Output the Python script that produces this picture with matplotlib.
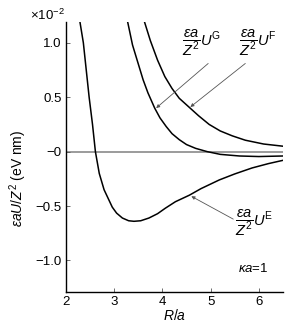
import matplotlib
matplotlib.use("Agg")
import matplotlib.pyplot as plt

plt.rcParams['font.family'] = ['Liberation Sans', 'DejaVu Sans']
plt.rcParams['mathtext.fontset'] = 'custom'
plt.rcParams['mathtext.it'] = 'Liberation Sans:italic'
plt.rcParams['mathtext.rm'] = 'Liberation Sans'
plt.rcParams['mathtext.sf'] = 'Liberation Sans'

# data (values in units of 1e-2 eV nm)
R_E = [2.29, 2.36, 2.42, 2.48, 2.55, 2.61, 2.69, 2.79, 2.96, 3.05, 3.17, 3.30, 3.41, 3.55,
       3.72, 3.90, 4.06, 4.27, 4.56, 4.80, 5.18, 5.50, 5.86, 6.20, 6.5]
U_E = [1.19, 1.00, 0.75, 0.50, 0.25, 0.00, -0.20, -0.35, -0.51, -0.565, -0.61, -0.635, -0.64, -0.635,
       -0.61, -0.57, -0.52, -0.46, -0.40, -0.34, -0.26, -0.205, -0.15, -0.11, -0.08]

R_G = [3.28, 3.38, 3.49, 3.60, 3.70, 3.84, 3.95, 4.08, 4.20, 4.35, 4.50, 4.69, 4.93, 5.20,
       5.60, 6.0, 6.5]
U_G = [1.19, 0.98, 0.82, 0.66, 0.54, 0.40, 0.31, 0.23, 0.165, 0.11, 0.065, 0.03, 0.00, -0.025,
       -0.04, -0.045, -0.04]

R_F = [3.63, 3.75, 3.90, 4.05, 4.20, 4.35, 4.50, 4.60, 4.75, 4.97, 5.20, 5.45, 5.72, 6.10, 6.5]
U_F = [1.19, 1.02, 0.84, 0.69, 0.58, 0.49, 0.43, 0.39, 0.33, 0.25, 0.19, 0.145, 0.105, 0.07, 0.05]

xticks = [2, 3, 4, 5, 6]
yticks = [1.0, 0.5, 0.0, -0.5, -1.0]
ytick_labels = ['1.0', '0.5', '\u22120', '\u22120.5', '\u22121.0']

fig = plt.figure(figsize=(3.0, 3.3), dpi=100)
ax = fig.add_axes([0.22, 0.115, 0.723, 0.818])

ax.axhline(0, color='#8a8a8a', lw=1.2, zorder=1)
for R, U in [(R_E, U_E), (R_G, U_G), (R_F, U_F)]:
    ax.plot(R, U, color='black', lw=1.1, zorder=2, solid_joinstyle='round')

ax.set_xlim(2, 6.5)
ax.set_ylim(-1.29, 1.19)
ax.set_xticks(xticks)
ax.set_yticks(yticks)
ax.set_yticklabels(ytick_labels)
ax.tick_params(direction='in', length=3, width=0.6, labelsize=9.5, color='#555555', pad=3)
for s in ['top', 'right']:
    ax.spines[s].set_visible(False)
for s in ['left', 'bottom']:
    ax.spines[s].set_linewidth(1.0)

ax.set_xlabel(r'$R/a$', fontsize=10, labelpad=0)
fig.text(0.06, 0.46, r'$\varepsilon aU/Z^2$ (eV nm)', rotation=90, fontsize=10,
         ha='center', va='center')
fig.text(0.10, 0.953, r'$\times10^{-2}$', fontsize=9.5, ha='left', va='center')

arrowkw = dict(arrowstyle='-|>', color='#555555', lw=0.6, mutation_scale=5,
               shrinkA=0, shrinkB=0)

ax.annotate('', xy=(3.87, 0.40), xytext=(4.95, 0.81), arrowprops=arrowkw)
ax.annotate('', xy=(4.58, 0.41), xytext=(5.72, 0.81), arrowprops=arrowkw)
ax.annotate('', xy=(4.60, -0.41), xytext=(5.47, -0.62), arrowprops=arrowkw)

lab_kw = dict(fontsize=10.5, ha='center', va='center')
ax.text(4.80, 0.99, r'$\dfrac{\varepsilon a}{Z^2}U^{\mathrm{G}}$', **lab_kw)
ax.text(5.97, 0.99, r'$\dfrac{\varepsilon a}{Z^2}U^{\mathrm{F}}$', **lab_kw)
ax.text(5.90, -0.66, r'$\dfrac{\varepsilon a}{Z^2}U^{\mathrm{E}}$', **lab_kw)
ax.text(5.88, -1.07, r'$\kappa a$=1', fontsize=9.5, ha='center', va='center')

fig.savefig('out.png', dpi=100)
